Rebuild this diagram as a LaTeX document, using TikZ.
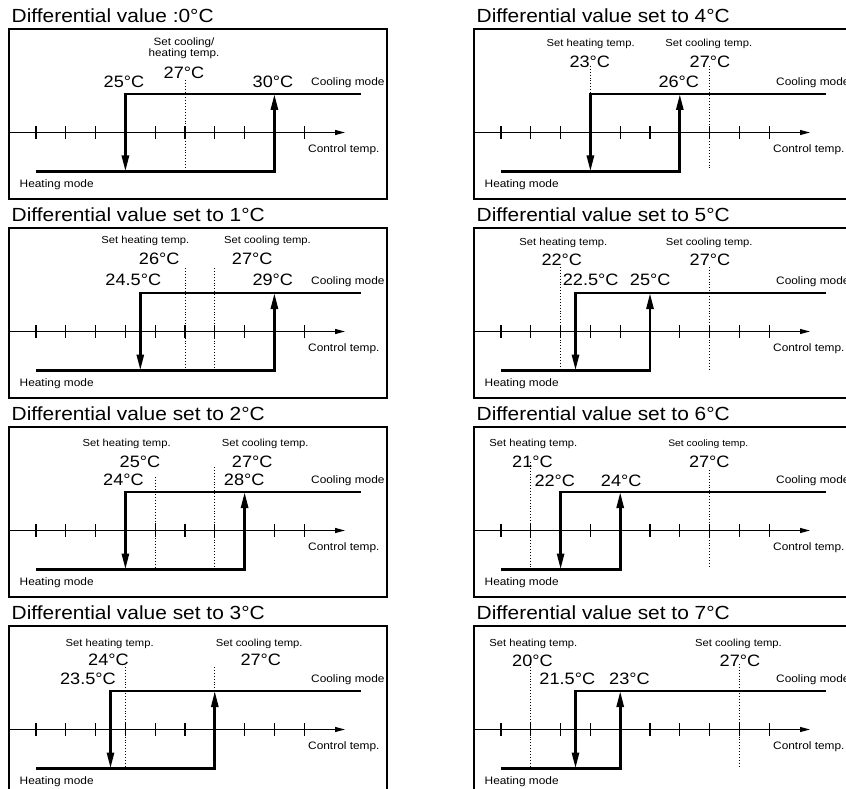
\documentclass[tikz,border=0pt]{standalone}
\usepackage{fontspec}
\setmainfont{Liberation Sans}[FakeStretch=1.1]
\usepackage{tikz}
\usetikzlibrary{arrows.meta}

\tikzset{
    frame/.style={line width=1.1pt},
    axis/.style={line width=1.1pt},
    setline/.style={line width=0.9pt, dash pattern=on 0.9pt off 2pt},
    mode/.style={line width=2.7pt, line join=miter, -{Triangle[length=16pt,width=7pt]}},
    title/.style={font=\fontsize{19}{22}\selectfont, inner sep=0pt, anchor=base west},
    val/.style={font=\fontsize{16.5}{18}\selectfont, inner sep=0pt, text height=11.8pt, text depth=0pt},
    setlbl/.style={font=\fontsize{10.2}{11}\selectfont, inner sep=0pt, text height=7.3pt, text depth=0pt},
    modelbl/.style={font=\fontsize{10.8}{12}\selectfont, inner sep=0pt, text height=7.7pt, text depth=0pt, anchor=west},
}

\begin{document}
\begin{tikzpicture}[x=1pt, y=-1pt]
    \clip (0,0) rectangle (846,789);
    % frames, axes and hysteresis loops
    \foreach \n/\fx/\fy/\hk/\ck/\sh/\sc/\sht/\sct/\ttl in {
        a/9/29/3/8/5/5/51/51/{Differential value :0°C},
        b/9/228/3.5/8/5/6/40/40/{Differential value set to 1°C},
        c/9/427/3/7/4/6/50/40/{Differential value set to 2°C},
        d/9/626/2.5/6/3/6/41/41/{Differential value set to 3°C},
        e/474/29/3/6/3/7/37/37/{Differential value set to 4°C},
        f/474/228/2.5/5/2/7/39/39/{Differential value set to 5°C},
        g/474/427/2/4/1/7/35/43/{Differential value set to 6°C},
        h/474/626/2.5/4/1/8/38/38/{Differential value set to 7°C}} {
        \begin{scope}[shift={(\fx,\fy)}]
            \node[title] (\n-title) at (2.5,-6.5) {\ttl};
            \draw[frame] (0,0) rectangle (378,170);
            \draw[axis, -{Triangle[length=10pt,width=5pt]}] (0,103.5) -- (336,103.5);
            \foreach \k in {0,...,9}
                \draw[axis] ({27+29.8*\k},97) -- ({27+29.8*\k},110);
            \draw[setline] ({27+29.8*\sh},\sht) -- ({27+29.8*\sh},141);
            \draw[setline] ({27+29.8*\sc},\sct) -- ({27+29.8*\sc},141);
            \coordinate (\n-lo) at (27,142.5);
            \coordinate (\n-cl) at ({27+29.8*\ck},142.5);
            \coordinate (\n-cu) at ({27+29.8*\ck},65);
            \coordinate (\n-hi) at (352,65);
            \coordinate (\n-hu) at ({27+29.8*\hk},65);
            \coordinate (\n-hl) at ({27+29.8*\hk},142.5);
            \draw[mode] (\n-lo) -- (\n-cl) -- (\n-cu);
            \draw[mode] (\n-hi) -- (\n-hu) -- (\n-hl);
            \node[modelbl] (\n-cool) at (302,52.5) {Cooling mode};
            \node[modelbl] (\n-ctrl) at (299,119.5) {Control temp.};
            \node[modelbl] (\n-heat) at (10.5,155) {Heating mode};
        \end{scope}
    }
    % differential 0
    \node[font=\fontsize{10.6}{11}\selectfont, inner sep=0pt, align=center] (a-set) at (184,48) {Set cooling/\\heating temp.};
    \node[val] (a-v27) at (184,73) {27°C};
    \node[val] (a-v25) at (124,82) {25°C};
    \node[val] (a-v30) at (273,82) {30°C};
    % differential 1
    \node[setlbl] (b-sh) at (145.3,240) {Set heating temp.};
    \node[setlbl] (b-sc) at (267.5,240) {Set cooling temp.};
    \node[val] (b-v26) at (159.2,258.3) {26°C};
    \node[val] (b-v27) at (252.2,258.3) {27°C};
    \node[val] (b-v245) at (133.3,280) {24.5°C};
    \node[val] (b-v29) at (272.8,280) {29°C};
    % differential 2
    \node[setlbl] (c-sh) at (126.7,442.7) {Set heating temp.};
    \node[setlbl] (c-sc) at (265.2,442.7) {Set cooling temp.};
    \node[val] (c-v25) at (140,461.7) {25°C};
    \node[val] (c-v27) at (252.2,461.7) {27°C};
    \node[val] (c-v24) at (123.5,480) {24°C};
    \node[val] (c-v28) at (244.2,480) {28°C};
    % differential 3
    \node[setlbl] (d-sh) at (109.7,643) {Set heating temp.};
    \node[setlbl] (d-sc) at (259.2,643) {Set cooling temp.};
    \node[val] (d-v24) at (108.5,660) {24°C};
    \node[val] (d-v27) at (260.8,660) {27°C};
    \node[val] (d-v235) at (88,679) {23.5°C};
    % differential 4
    \node[setlbl] (e-sh) at (590.7,43.3) {Set heating temp.};
    \node[setlbl] (e-sc) at (708.8,43.3) {Set cooling temp.};
    \node[val] (e-v23) at (589.8,61.7) {23°C};
    \node[val] (e-v27) at (710,61.7) {27°C};
    \node[val] (e-v26) at (678.8,81.7) {26°C};
    % differential 5
    \node[setlbl] (f-sh) at (563.3,241.7) {Set heating temp.};
    \node[setlbl] (f-sc) at (709.2,241.7) {Set cooling temp.};
    \node[val] (f-v22) at (561.8,259.3) {22°C};
    \node[val] (f-v27) at (710,259.3) {27°C};
    \node[val] (f-v225) at (590.7,280) {22.5°C};
    \node[val] (f-v25) at (650.2,280) {25°C};
    % differential 6
    \node[setlbl] (g-sh) at (533.3,442.7) {Set heating temp.};
    \node[setlbl, font=\fontsize{9.4}{11}\selectfont] (g-sc) at (708.2,442.7) {Set cooling temp.};
    \node[val] (g-v21) at (532.5,461.7) {21°C};
    \node[val] (g-v27) at (709.3,461.7) {27°C};
    \node[val] (g-v22) at (554.8,480.7) {22°C};
    \node[val] (g-v24) at (621.2,480.7) {24°C};
    % differential 7
    \node[setlbl] (h-sh) at (533.3,643) {Set heating temp.};
    \node[setlbl] (h-sc) at (738.5,643) {Set cooling temp.};
    \node[val] (h-v20) at (532.5,660.7) {20°C};
    \node[val] (h-v27) at (740,660.7) {27°C};
    \node[val] (h-v215) at (567.3,679) {21.5°C};
    \node[val] (h-v23) at (629.5,679) {23°C};
\end{tikzpicture}
\end{document}
